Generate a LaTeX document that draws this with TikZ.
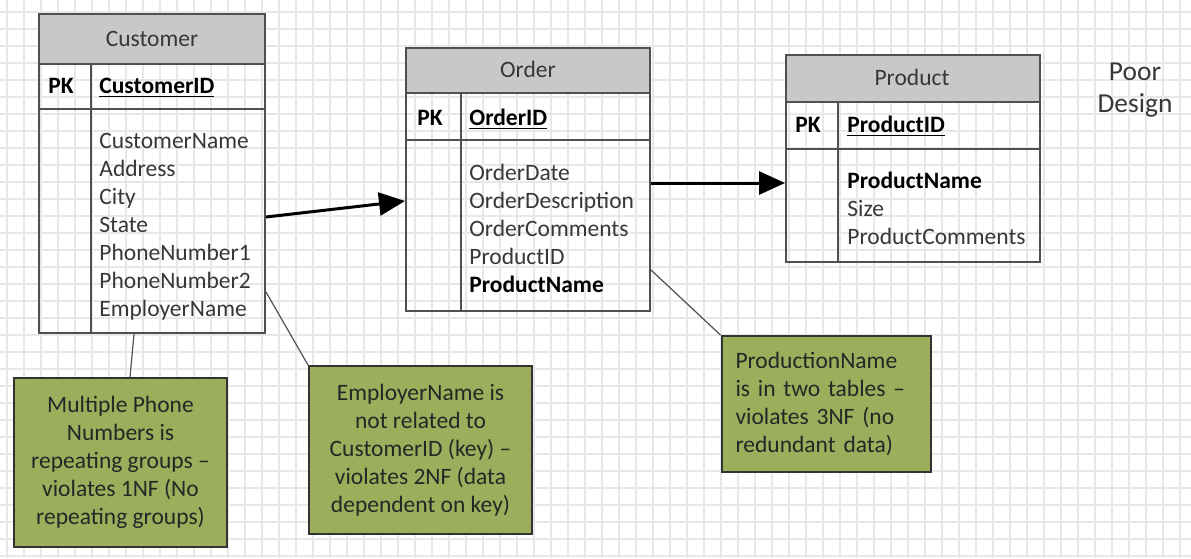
\documentclass[tikz,border=0pt]{standalone}
\usepackage{fontspec}
\setmainfont{Carlito}
\usetikzlibrary{fit,arrows.meta}
\definecolor{tline}{RGB}{80,80,80}
\definecolor{hdrgray}{RGB}{200,200,200}
\definecolor{notegreen}{RGB}{154,174,92}
\definecolor{txtgray}{RGB}{55,55,55}
\definecolor{gridgray}{RGB}{232,232,232}
\newcommand{\tfont}{\fontsize{11.75}{14}\selectfont}

\tikzset{
  tblpart/.style={draw=tline, line width=1pt, inner sep=0pt},
  hdr/.style={tblpart, fill=hdrgray},
  hdrtext/.style={anchor=base, inner sep=0pt, text=txtgray, font=\tfont},
  attr/.style={anchor=base west, inner sep=0pt, text=txtgray, font=\tfont},
  keyattr/.style={anchor=base west, inner sep=0pt, font={\tfont\bfseries}},
  note/.style={draw=black!80, line width=1pt, fill=notegreen, text=black!85,
    font=\tfont, inner sep=0pt},
  link/.style={line width=1.5pt, -{Triangle[length=13pt,width=11.5pt]}},
  callout/.style={draw=tline, line width=0.6pt}
}

\begin{document}
\begin{tikzpicture}[x=0.5pt,y=-0.5pt]
\useasboundingbox (0,0) rectangle (1191,558);
\fill[white] (0,0) rectangle (1191,558);
\foreach \gx in {7,24,...,1191} \draw[gridgray, line width=0.55pt] (\gx,0) -- (\gx,558);
\foreach \gy in {12,29,...,558} \draw[gridgray, line width=0.55pt] (0,\gy) -- (1191,\gy);

% Customer table
\node[hdr, fit={(39,14) (265,64)}] (cust) {};
\node[tblpart, fit={(39,64) (265,109)}] (custpk) {};
\node[tblpart, fit={(39,109) (265,333)}] (custbody) {};
\draw[tline, line width=1pt] (91,64) -- (91,333);
\node[hdrtext] (custname) at (152,46) {Customer};
\node[keyattr] (custpkl) at (48,93) {PK};
\node[keyattr] (custid) at (99,93) {\underline{CustomerID}};
\foreach \a [count=\i] in {CustomerName,Address,City,State,PhoneNumber1,PhoneNumber2,EmployerName}
  \node[attr] (cust-\i) at (99,120+28*\i) {\a};

% Order table
\node[hdr, fit={(406,48) (650,93)}] (ord) {};
\node[tblpart, fit={(406,93) (650,140)}] (ordpk) {};
\node[tblpart, fit={(406,140) (650,311)}] (ordbody) {};
\draw[tline, line width=1pt] (461,93) -- (461,311);
\node[hdrtext] (ordname) at (528,77) {Order};
\node[keyattr] (ordpkl) at (417,125) {PK};
\node[keyattr] (ordid) at (469,125) {\underline{OrderID}};
\foreach \a [count=\i] in {OrderDate,OrderDescription,OrderComments,ProductID,{\color{black}\bfseries ProductName}}
  \node[attr] (ord-\i) at (469,152+28*\i) {\a};

% Product table
\node[hdr, fit={(786,55) (1040,102)}] (prod) {};
\node[tblpart, fit={(786,102) (1040,149)}] (prodpk) {};
\node[tblpart, fit={(786,149) (1040,262)}] (prodbody) {};
\draw[tline, line width=1pt] (838,102) -- (838,262);
\node[hdrtext] (prodname) at (912,85) {Product};
\node[keyattr] (prodpkl) at (795,132) {PK};
\node[keyattr] (prodid) at (847,132) {\underline{ProductID}};
\foreach \a [count=\i] in {{\color{black}\bfseries ProductName},Size,ProductComments}
  \node[attr] (prod-\i) at (847,160+28*\i) {\a};

\node[text=txtgray, align=center, font={\fontsize{13.7}{16}\selectfont}] (title) at (1135,90) {Poor\\Design};

% notes
\node[note, minimum width=106.5pt, minimum height=84.5pt, align=center] (n1) at (120.5,462.5)
  {Multiple Phone\\Numbers is\\repeating groups --\\violates 1NF (No\\repeating groups)};
\node[note, minimum width=111.5pt, minimum height=84pt, align=center] (n2) at (420.5,450)
  {EmployerName is\\not related to\\CustomerID (key) --\\violates 2NF (data\\dependent on key)};
\node[note, inner xsep=7pt, text width=90.75pt, minimum height=68pt, align=left] (n3) at (826.25,404)
  {ProductionName\\is in two tables --\\violates 3NF (no\\redundant data)};

% connectors
\draw[link] (custbody.east |- 0,217) -- (ordbody.west |- 0,201);
\draw[link] (ordbody.east |- 0,183) -- (prodbody.west |- 0,183);
\draw[callout] (custbody.south -| 134,0) -- (n1.north -| 130,0);
\draw[callout] (custbody.east |- 0,292) -- (n2.north west);
\draw[callout] (ordbody.east |- 0,270) -- (n3.north west);
\end{tikzpicture}
\end{document}
